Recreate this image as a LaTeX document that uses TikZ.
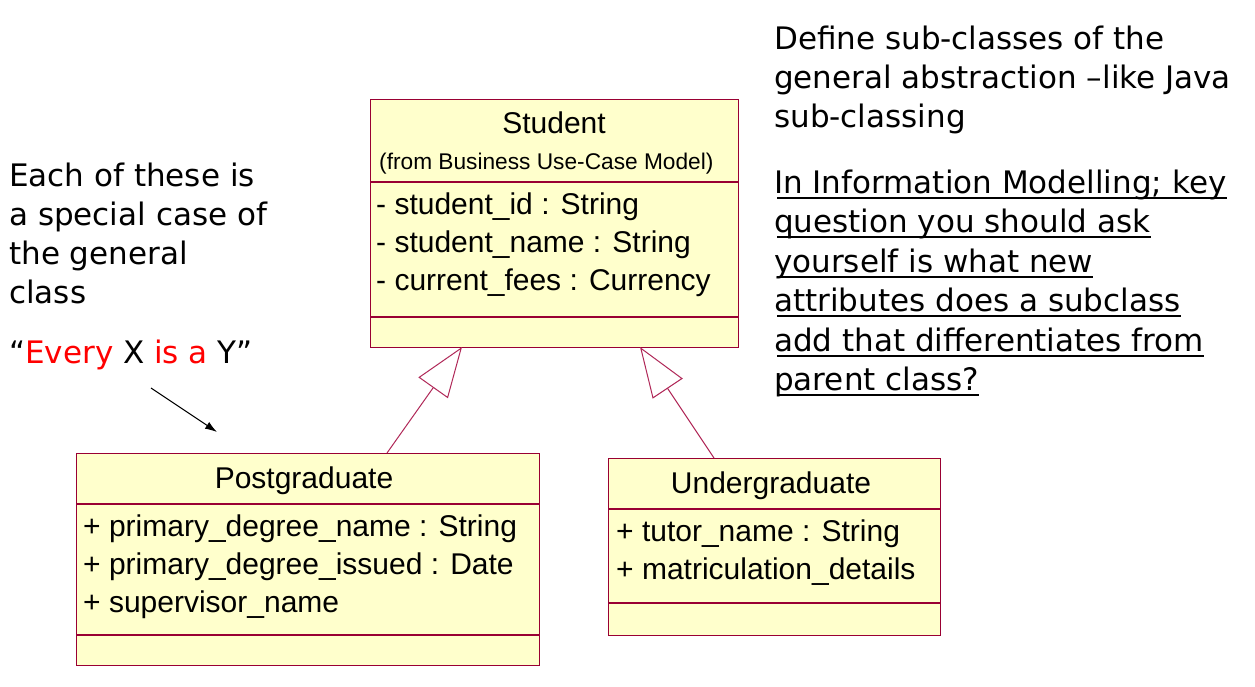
\documentclass[tikz,border=0pt]{standalone}
\usepackage{fontspec}
\setmainfont{Liberation Sans}
\newfontfamily\comicfont{DejaVu Sans}
\usetikzlibrary{arrows.meta}
\definecolor{umlfill}{RGB}{255,255,204}
\definecolor{umlline}{RGB}{153,0,51}
\definecolor{genline}{RGB}{176,40,88}
\definecolor{redtext}{RGB}{255,0,0}
\begin{document}
\begin{tikzpicture}[x=1pt,y=-1pt,
  classbox/.style={draw=umlline, fill=umlfill, line width=1.2pt, inner sep=0pt, anchor=north west},
  umltext/.style={inner sep=0pt, anchor=base west, font=\fontsize{30}{36}\selectfont},
  umltitle/.style={inner sep=0pt, anchor=base, font=\fontsize{30}{36}\selectfont},
  umlsmall/.style={inner sep=0pt, anchor=base west, font=\fontsize{22.7}{27}\selectfont},
  divider/.style={draw=umlline, line width=1.2pt},
  genarrow/.style={draw=genline, line width=1pt, -{Triangle[open, length=50pt, width=36pt]}},
  comic/.style={inner sep=0pt, anchor=base west, font=\comicfont\fontsize{31}{39}\selectfont},
  uline/.style={line width=2pt, black},
]
\useasboundingbox[fill=white] (0,0) rectangle (1255,686);

% ---------- Student ----------
\node[classbox, minimum width=368pt, minimum height=248pt] (student) at (370,99) {};
\draw[divider] (370,182) -- (738,182);
\draw[divider] (370,317) -- (738,317);
\node[umltitle] (stname) at (554,133) {Student};
\node[umlsmall] (stfrom) at (379,169) {(from Business Use-Case Model)};
\node[umltext] (sta1) at (376,214) {- student\_id : String};
\node[umltext] (sta2) at (376,252) {- student\_name : String};
\node[umltext] (sta3) at (376,290) {- current\_fees : Currency};

% ---------- Postgraduate ----------
\node[classbox, minimum width=463pt, minimum height=212pt] (pg) at (76,453) {};
\draw[divider] (76,504) -- (539,504);
\draw[divider] (76,635) -- (539,635);
\node[umltitle] (pgname) at (304,488) {Postgraduate};
\node[umltext] (pga1) at (83,536) {+ primary\_degree\_name : String};
\node[umltext] (pga2) at (83,574) {+ primary\_degree\_issued : Date};
\node[umltext] (pga3) at (83,612) {+ supervisor\_name};

% ---------- Undergraduate ----------
\node[classbox, minimum width=332pt, minimum height=177pt] (ug) at (608,458) {};
\draw[divider] (608,509) -- (940,509);
\draw[divider] (608,603) -- (940,603);
\node[umltitle] (ugname) at (771,493) {Undergraduate};
\node[umltext] (uga1) at (616,541) {+ tutor\_name : String};
\node[umltext] (uga2) at (616,579) {+ matriculation\_details};

% ---------- generalisations ----------
\coordinate (pgtop) at (387,453);
\coordinate (sttipL) at (462,347);
\coordinate (ugtop) at (714,458);
\coordinate (sttipR) at (640,347);
\draw[genarrow] (pgtop) -- (sttipL);
\draw[genarrow] (ugtop) -- (sttipR);

% ---------- left text ----------
\node[comic] (l1) at (9,186) {Each of these is};
\node[comic] (l2) at (9,225) {a special case of};
\node[comic] (l3) at (9,264) {the general};
\node[comic] (l4) at (9,303) {class};
\node[comic] (l5) at (9,363) {“\textcolor{redtext}{Every} X \textcolor{redtext}{is a} Y”};
\coordinate (arrs) at (151,388);
\coordinate (arre) at (217,432);
\draw[line width=1pt, -{Latex[length=12pt,width=8pt]}] (arrs) -- (arre);

% ---------- right text ----------
\node[comic] (r1) at (774,49) {Define sub-classes of the};
\node[comic] (r2) at (774,88) {general abstraction –like Java};
\node[comic] (r3) at (774,127) {sub-classing};

\node[comic] (u1) at (774,193) {In Information Modelling; key};
\node[comic] (u2) at (774,232) {question you should ask};
\node[comic] (u3) at (774,272) {yourself is what new};
\node[comic] (u4) at (774,311) {attributes does a subclass};
\node[comic] (u5) at (774,351) {add that differentiates from};
\node[comic] (u6) at (774,390) {parent class?};
\foreach \n in {u1,u2,u3,u4,u5,u6}
  \draw[uline] ([xshift=3pt,yshift=-5pt]\n.base west) -- ([yshift=-5pt]\n.base east);
\end{tikzpicture}
\end{document}
